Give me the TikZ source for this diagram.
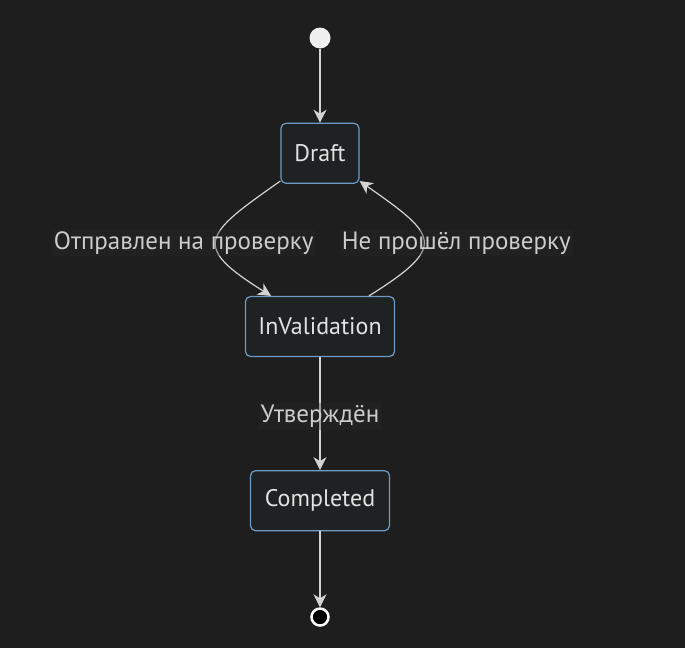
\documentclass[tikz,border=0pt]{standalone}
\usepackage{fontspec}
\setmainfont{PT Sans}
\usetikzlibrary{positioning, arrows.meta, calc}

\definecolor{bgdark}{HTML}{1E1E1E}
\definecolor{statefill}{HTML}{1F2222}
\definecolor{stateline}{HTML}{6E9BC5}
\definecolor{statetext}{HTML}{E2E2E2}
\definecolor{flowline}{HTML}{D3D3D3}
\definecolor{lbltext}{HTML}{CCCCCC}
\definecolor{lblfill}{HTML}{2A2A2A}

\begin{document}
\begin{tikzpicture}[
    x=1pt, y=1pt,
    % --- styles ---
    state/.style={
            draw=stateline,
            fill=statefill,
            line width=1.2pt,
            rounded corners=5pt,
            minimum height=60pt,
            text=statetext,
            font=\fontsize{24}{28}\selectfont
        },
    flow/.style={
            -{Stealth[length=13pt, width=13pt, inset=4pt]},
            line width=1.2pt,
            color=flowline
        },
    lbl/.style={
            fill=lblfill,
            fill opacity=0.3,
            text opacity=1,
            text=lbltext,
            inner sep=2pt,
            yshift=-3pt,
            font=\fontsize{25}{28}\selectfont
        }
    ]

    % --- background / canvas ---
    \fill[bgdark] (0,0) rectangle (685,-648);

    % --- states ---
    \node[circle, fill=white!94!black, minimum size=21pt, inner sep=0pt] (start) at (320,-38) {};
    \node[state, minimum width=78pt, below=74pt of start] (draft) {Draft};
    \node[state, minimum width=149pt, below=112pt of draft] (valid) {InValidation};
    \node[state, minimum width=139pt, below=113pt of valid] (done) {Completed};
    \node[circle, draw=white, line width=2.5pt, fill=black, minimum size=17pt, inner sep=0pt, below=76pt of done] (stop) {};

    % --- transitions ---
    \draw[flow] (start) -- (draft);
    \draw[flow] (draft) to[out=215, in=148, looseness=2.1]
        node[lbl, pos=0.5, xshift=-33pt] {Отправлен на проверку} (valid);
    \draw[flow] (valid) to[out=32, in=-35, looseness=2.1]
        node[lbl, pos=0.5, xshift=33pt] {Не прошёл проверку} (draft);
    \draw[flow] (valid) -- node[lbl] {Утверждён} (done);
    \draw[flow] (done) -- (stop);

\end{tikzpicture}
\end{document}
